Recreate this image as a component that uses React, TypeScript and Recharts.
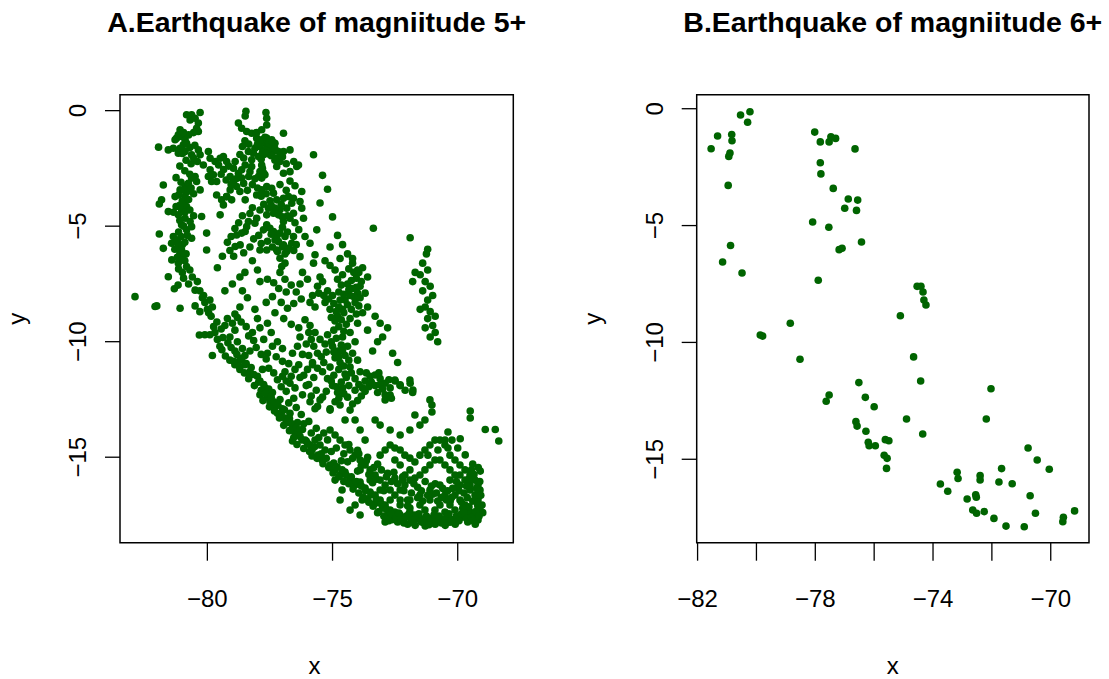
import React from 'react';
import { ScatterChart, Scatter, XAxis, YAxis, ReferenceArea } from 'recharts';

// ---------------------------------------------------------------------------
// Data: epicentres [longitude, latitude]
// ---------------------------------------------------------------------------

// Panel A (magnitude 5+), grouped by region
const nwCoastA: [number, number][] = [
  [-80.83, -0.18], [-80.63, -0.18], [-80.29, -0.08], [-80.69, -0.4], [-80.49, -0.33], [-80.36, -0.54],
  [-80.43, -0.76], [-80.36, -0.9], [-81.09, -0.83], [-81.16, -1.05], [-81.23, -1.19], [-81.03, -1.12],
  [-80.89, -1.26], [-81.29, -1.26], [-80.96, -1.48], [-80.83, -1.41], [-81.09, -1.63], [-80.89, -1.77],
  [-80.63, -1.91], [-80.36, -1.7], [-80.29, -1.91], [-80.4, -2.2], [-81.95, -1.58], [-81.56, -1.7],
  [-81.36, -1.63], [-81.16, -1.84], [-80.65, -2.3], [-80.16, -2.35], [-81.76, -3.22], [-81.83, -3.86],
  [-81.92, -4.04], [-81.56, -4.37], [-81.29, -3.72], [-81.09, -3.43], [-80.89, -3.28], [-80.76, -3.14],
  [-80.63, -2.92], [-80.49, -2.85], [-80.43, -3.07], [-80.29, -3.43], [-80.89, -3.72], [-80.96, -4.01],
  [-80.83, -4.15], [-81.03, -4.29], [-81.16, -4.51], [-80.89, -4.66], [-80.69, -4.8], [-80.63, -5.02],
  [-81.03, -4.94], [-80.83, -5.16], [-80.23, -4.58], [-80.03, -5.3], [-80.63, -5.52], [-81.0, -3.9],
  [-80.9, -4.4], [-81.1, -4.1], [-80.8, -3.5], [-81.92, -5.34], [-81.76, -5.96], [-81.36, -5.45],
  [-81.29, -5.67], [-81.16, -5.88], [-81.03, -6.03], [-80.96, -6.24], [-81.42, -6.46], [-81.16, -6.6],
  [-80.83, -6.75], [-81.43, -5.74], [-80.03, -6.03], [-81.2, -5.6], [-81.0, -5.8], [-81.1, -6.2],
  [-80.9, -6.5], [-80.7, -6.9], [-81.0, -7.0], [-80.6, -7.2], [-80.4, -7.4], [-81.56, -7.19],
  [-81.32, -7.71], [-82.89, -8.05], [-82.09, -8.48], [-82.02, -8.45], [-81.09, -8.55], [-80.49, -8.45],
  [-80.32, -9.71], [-80.1, -8.3], [-79.9, -8.2], [-80.0, -8.6], [-79.8, -8.5], [-80.2, -8.1],
  [-80.49, -7.77], [-81.17, -7.55], [-80.55, -0.95], [-80.75, -1.05], [-80.95, -0.95], [-80.5, -1.5],
  [-80.7, -1.6], [-81.0, -1.85], [-80.55, -2.05], [-80.85, -2.15], [-81.1, -2.4], [-80.9, -2.6],
  [-80.7, -2.75], [-81.25, -2.9], [-81.05, -3.1], [-80.95, -3.45], [-81.15, -3.65], [-80.65, -3.35],
  [-80.55, -3.6], [-80.75, -3.85], [-81.25, -4.15], [-81.35, -4.4], [-80.7, -4.3], [-80.55, -4.55],
  [-81.1, -4.75], [-80.95, -5.0], [-81.15, -5.25], [-80.8, -5.4], [-81.05, -5.45], [-80.9, -5.7],
  [-81.3, -6.0], [-81.2, -6.35], [-81.0, -6.45], [-80.85, -6.2], [-81.15, -6.85], [-80.95, -7.25],
  [-80.75, -7.5], [-80.3, -7.8], [-80.15, -8.0], [-80.3, -8.7], [-79.95, -8.75],
];

const northHighlandsA: [number, number][] = [
  [-79.96, -1.77], [-79.89, -2.06], [-79.69, -2.2], [-79.49, -2.06], [-79.36, -1.99], [-79.23, -2.2],
  [-78.89, -2.2], [-78.96, -2.49], [-78.76, -2.71], [-78.63, -2.92], [-79.09, -2.85], [-78.96, -3.07],
  [-78.83, -3.28], [-79.09, -3.43], [-79.23, -3.72], [-79.43, -3.86], [-79.36, -4.08], [-78.49, -2.35],
  [-78.63, -2.56], [-78.3, -2.64], [-78.23, -2.42], [-79.89, -2.56], [-79.96, -2.85], [-79.83, -3.07],
  [-79.63, -3.07], [-79.76, -2.78], [-78.46, -0.03], [-78.49, -0.23], [-78.76, -0.54], [-78.63, -0.76],
  [-78.43, -0.9], [-78.23, -0.98], [-78.03, -0.95], [-77.83, -0.83], [-77.63, -0.62], [-77.63, -0.33],
  [-77.66, -0.08], [-78.03, -1.19], [-77.83, -1.26], [-77.63, -1.19], [-77.43, -1.26], [-77.3, -1.41],
  [-77.5, -1.55], [-77.7, -1.41], [-77.9, -1.55], [-78.1, -1.63], [-78.16, -1.84], [-78.36, -1.77],
  [-78.23, -2.13], [-77.96, -1.99], [-77.76, -1.91], [-77.56, -1.77], [-77.36, -1.77], [-77.16, -1.77],
  [-76.96, -1.77], [-76.7, -1.7], [-76.96, -0.98], [-77.23, -2.06], [-77.1, -2.2], [-77.23, -2.42],
  [-77.83, -2.35], [-77.9, -2.64], [-77.83, -2.92], [-77.7, -2.78], [-77.96, -2.85], [-76.96, -2.71],
  [-76.7, -2.64], [-76.43, -2.42], [-76.36, -2.35], [-75.76, -1.91], [-77.6, -1.6], [-77.4, -1.5],
  [-77.7, -1.7], [-77.5, -1.9], [-77.8, -1.8], [-77.3, -1.65], [-77.85, -2.1], [-77.8, -2.5],
  [-77.75, -2.7], [-79.49, -4.51], [-79.63, -3.65], [-79.23, -3.72], [-79.03, -3.86], [-78.49, -3.86],
  [-78.03, -3.65], [-77.83, -3.43], [-77.63, -3.28], [-77.43, -3.36], [-77.36, -3.57], [-77.23, -3.86],
  [-76.96, -3.79], [-76.76, -3.72], [-76.56, -3.79], [-76.63, -4.01], [-76.83, -4.22], [-77.1, -4.29],
  [-77.3, -4.22], [-77.56, -4.22], [-77.63, -4.51], [-77.36, -4.44], [-77.16, -4.51], [-76.96, -4.8],
  [-76.7, -4.66], [-76.56, -4.44], [-76.23, -3.5], [-76.3, -3.93], [-76.23, -4.22], [-76.16, -4.66],
  [-76.56, -5.45], [-76.1, -5.45], [-75.9, -5.74], [-75.63, -5.16], [-75.7, -6.24], [-75.76, -6.6],
  [-76.3, -6.32], [-78.36, -4.8], [-78.1, -4.87], [-78.03, -4.66], [-78.43, -5.02], [-78.83, -5.38],
  [-78.63, -5.3], [-78.49, -5.23], [-78.89, -5.88], [-78.69, -5.81], [-77.76, -5.16], [-77.63, -4.94],
  [-77.5, -5.09], [-77.36, -5.23], [-77.23, -5.45], [-77.16, -5.67], [-76.96, -5.81], [-76.9, -5.45],
  [-76.63, -5.74], [-77.23, -6.03], [-77.63, -6.03], [-77.9, -6.03], [-77.1, -6.39], [-77.03, -6.75],
  [-76.9, -6.6], [-76.83, -6.1], [-77.3, -5.6], [-77.0, -5.9], [-77.2, -6.1], [-76.9, -6.2],
  [-77.4, -5.9], [-77.1, -5.3], [-79.0, -7.5], [-78.7, -7.2], [-79.3, -7.8], [-78.5, -7.0],
  [-79.6, -6.8], [-79.4, -6.3], [-78.2, -6.5], [-78.0, -6.9], [-79.55, -2.35], [-79.35, -2.55],
  [-79.15, -2.4], [-79.45, -2.75], [-79.25, -3.0], [-79.05, -3.2], [-78.85, -2.95], [-78.7, -3.5],
  [-78.55, -3.15], [-78.4, -3.45], [-78.2, -3.2], [-78.35, -2.85], [-78.1, -2.95], [-78.0, -3.35],
  [-77.85, -3.7], [-77.65, -3.6], [-77.5, -3.9], [-77.45, -4.1], [-77.75, -4.05], [-77.9, -4.3],
  [-78.2, -4.2], [-78.3, -4.45], [-78.6, -4.55], [-78.75, -4.85], [-78.9, -5.1], [-79.05, -5.45],
  [-79.2, -5.7], [-79.1, -6.05], [-78.95, -6.3], [-78.55, -6.15], [-78.3, -5.9], [-78.15, -5.55],
  [-77.95, -5.4], [-77.85, -5.75], [-77.6, -5.65], [-77.45, -5.35], [-77.0, -5.05], [-76.8, -5.25],
  [-76.75, -5.95], [-76.55, -6.05], [-76.45, -5.8], [-76.35, -5.15], [-76.5, -4.85], [-76.8, -4.55],
  [-77.0, -4.6], [-77.05, -4.05], [-76.85, -3.45], [-77.1, -3.2], [-76.7, -3.05], [-76.5, -3.25],
  [-77.9, -1.3], [-78.0, -1.45], [-77.7, -1.15], [-77.55, -1.4], [-77.4, -1.35], [-77.65, -1.85],
  [-77.45, -1.95], [-77.3, -2.15], [-77.0, -2.0], [-76.85, -2.3], [-76.55, -2.2], [-78.5, -1.3],
  [-78.6, -1.55], [-78.35, -1.45], [-78.7, -1.9], [-78.55, -2.05],
];

const centralA: [number, number][] = [
  [-75.4, -2.8], [-75.2, -3.4], [-75.5, -4.0], [-75.0, -4.6], [-74.8, -5.4], [-74.6, -5.8],
  [-74.4, -6.2], [-74.2, -6.6], [-74.7, -6.4], [-75.1, -5.9], [-75.3, -6.5], [-74.0, -6.9],
  [-73.37, -5.09], [-75.1, -6.7], [-74.9, -6.9], [-74.8, -7.3], [-74.6, -7.1], [-74.4, -7.5],
  [-74.2, -7.7], [-74.3, -8.0], [-74.5, -8.2], [-74.4, -8.4], [-74.1, -8.3], [-74.0, -7.9],
  [-73.9, -8.1], [-74.6, -8.6], [-74.8, -8.9], [-75.0, -8.0], [-75.2, -7.8], [-75.4, -7.4],
  [-75.5, -7.2], [-75.6, -7.6], [-75.8, -8.0], [-75.9, -8.3], [-75.7, -8.5], [-75.3, -8.3],
  [-75.1, -8.6], [-74.9, -9.1], [-74.3, -9.0], [-73.9, -7.6], [-73.7, -7.9], [-73.6, -8.5],
  [-73.3, -8.9], [-73.1, -9.2], [-74.2, -6.4], [-73.6, -7.2], [-73.8, -6.8], [-75.9, -9.3],
  [-75.7, -9.6], [-75.5, -9.9], [-75.3, -10.1], [-75.2, -9.7], [-75.0, -10.2], [-74.8, -10.4],
  [-74.9, -10.7], [-74.7, -10.9], [-74.5, -10.6], [-74.4, -10.2], [-74.6, -9.8], [-74.3, -9.6],
  [-74.1, -10.0], [-74.2, -10.5], [-74.0, -10.8], [-74.3, -11.1], [-74.5, -11.4], [-74.1, -11.6],
  [-73.9, -11.3], [-73.7, -11.7], [-73.8, -12.0], [-73.5, -11.5], [-73.3, -11.9], [-73.1, -11.6],
  [-72.9, -11.8], [-72.7, -12.0], [-72.5, -11.7], [-72.3, -11.9], [-73.2, -12.2], [-72.9, -12.3],
  [-72.1, -12.1], [-71.9, -11.8], [-71.8, -12.2], [-75.6, -10.5], [-75.8, -10.9], [-76.0, -11.2],
  [-75.4, -11.3], [-75.2, -11.6], [-75.0, -11.9], [-74.8, -12.2], [-74.6, -12.0], [-74.4, -12.4],
  [-74.2, -12.7], [-74.9, -12.6], [-75.1, -12.9], [-75.4, -12.4], [-75.6, -12.8], [-73.4, -10.4],
  [-73.2, -10.0], [-72.6, -10.5], [-73.0, -9.8], [-72.8, -9.4], [-72.4, -10.9], [-73.6, -9.5],
  [-74.0, -9.2], [-73.3, -11.44], [-73.1, -11.87], [-72.51, -11.66], [-72.3, -11.87], [-72.7, -12.31],
  [-72.9, -12.52], [-71.91, -11.66], [-71.79, -12.09], [-75.55, -7.9], [-75.35, -8.0], [-75.15, -8.15],
  [-74.95, -8.35], [-74.75, -8.5], [-74.55, -8.75], [-74.85, -8.7], [-75.05, -8.95], [-74.65, -9.05],
  [-74.45, -9.25], [-74.75, -9.35], [-74.95, -9.5], [-74.55, -9.55], [-74.85, -9.85], [-75.05, -10.0],
  [-74.65, -10.15], [-74.95, -10.45], [-74.6, -10.4], [-74.35, -10.8], [-74.75, -10.65], [-74.55, -11.05],
  [-74.75, -11.2], [-74.45, -11.55], [-74.25, -11.35], [-74.65, -11.75], [-74.35, -11.9], [-74.1, -12.1],
  [-73.95, -11.85], [-75.25, -10.45], [-75.45, -10.65], [-75.35, -10.9], [-75.6, -11.15], [-75.1, -11.1],
  [-74.95, -11.45], [-75.05, -11.7], [-74.85, -11.95], [-75.25, -12.15], [-74.55, -12.25], [-74.75, -12.45],
  [-73.85, -12.35], [-74.0, -12.55], [-73.7, -12.15], [-73.55, -11.95], [-73.65, -11.35], [-73.45, -11.75],
  [-73.15, -11.35], [-73.0, -12.05], [-72.75, -11.65], [-72.65, -12.45], [-76.1, -9.05], [-75.95, -9.6],
  [-76.05, -10.1], [-75.75, -10.2], [-75.85, -9.9], [-76.2, -10.55], [-75.95, -10.6], [-76.35, -11.0],
  [-76.15, -11.45], [-75.75, -11.55], [-75.95, -11.85], [-75.65, -12.1], [-75.85, -12.35], [-76.05, -11.9],
  [-74.05, -7.25], [-73.95, -7.0], [-74.15, -7.0], [-74.35, -6.85], [-74.25, -7.35], [-73.85, -7.4],
  [-74.05, -7.65], [-74.35, -7.75], [-74.65, -7.55], [-74.75, -7.85], [-74.55, -7.95], [-74.15, -8.05],
  [-74.7, -8.2], [-74.25, -8.6], [-73.95, -8.45], [-73.8, -8.75], [-74.05, -8.8],
];

const eastLineA: [number, number][] = [
  [-71.9, -5.5], [-71.2, -6.0], [-71.25, -6.2], [-71.4, -6.6], [-71.2, -6.9], [-71.5, -7.1],
  [-71.7, -7.0], [-71.3, -7.4], [-71.1, -7.6], [-71.4, -7.8], [-71.0, -8.0], [-71.2, -8.2],
  [-71.3, -8.5], [-71.1, -8.7], [-70.9, -8.9], [-71.2, -9.0], [-71.0, -9.3], [-70.9, -9.6],
  [-71.1, -9.8], [-70.8, -10.0], [-71.3, -9.4], [-71.8, -7.4], [-71.5, -8.6],
];

const coastBandA: [number, number][] = [
  [-80.1, -9.7], [-79.9, -9.7], [-79.7, -9.6], [-79.6, -9.9], [-79.5, -10.2], [-79.8, -10.6],
  [-79.3, -9.3], [-79.2, -9.0], [-79.0, -9.2], [-78.9, -9.5], [-79.1, -9.8], [-78.8, -10.0],
  [-78.6, -10.3], [-78.9, -10.4], [-78.5, -10.6], [-78.3, -10.4], [-78.7, -10.8], [-79.1, -10.8],
  [-78.9, -11.0], [-78.7, -11.2], [-78.5, -11.0], [-78.3, -11.3], [-78.0, -11.5], [-77.8, -11.2],
  [-77.9, -11.7], [-77.7, -12.0], [-77.9, -12.3], [-77.6, -12.4], [-77.4, -12.2], [-77.5, -12.6],
  [-77.3, -12.8], [-77.1, -12.5], [-77.0, -12.9], [-77.2, -13.1], [-76.9, -13.3], [-76.7, -13.1],
  [-76.8, -13.5], [-76.6, -13.7], [-76.4, -13.5], [-76.5, -13.9], [-76.3, -14.1], [-76.6, -14.3],
  [-76.2, -13.8], [-76.0, -14.4], [-78.0, -9.0], [-77.9, -9.4], [-78.1, -8.6], [-78.2, -9.6],
  [-78.6, -7.8], [-78.4, -8.1], [-78.7, -8.5], [-78.9, -8.8], [-77.6, -7.3], [-77.9, -7.4],
  [-76.9, -7.3], [-77.1, -7.0], [-76.2, -7.0], [-76.0, -7.3], [-76.3, -7.5], [-77.0, -10.3],
  [-77.2, -10.0], [-76.4, -10.2], [-76.6, -10.5], [-76.3, -9.8], [-75.8, -11.0], [-77.0, -11.5],
  [-76.7, -11.8], [-76.9, -11.3], [-76.5, -12.0], [-76.2, -12.3], [-75.9, -12.6], [-75.7, -12.9],
  [-79.85, -8.9], [-79.62, -9.15], [-79.45, -9.45], [-79.75, -9.35], [-79.38, -9.82], [-79.18, -10.05],
  [-79.42, -10.35], [-79.05, -10.25], [-78.82, -10.55], [-79.28, -10.62], [-78.62, -10.72], [-78.95, -10.85],
  [-78.45, -10.95], [-78.72, -11.08], [-78.25, -11.12], [-78.52, -11.35], [-78.15, -11.42], [-78.35, -11.6],
  [-77.95, -11.75], [-78.12, -11.9], [-77.75, -11.85], [-77.85, -12.1], [-77.55, -12.05], [-77.68, -12.25],
  [-77.45, -12.4], [-77.78, -12.55], [-77.35, -12.6], [-77.52, -12.82], [-77.18, -12.75], [-77.32, -13.0],
  [-77.05, -13.12], [-76.92, -12.95], [-77.12, -13.3], [-76.85, -13.45], [-76.72, -13.32], [-76.95, -13.62],
  [-76.62, -13.55], [-76.45, -13.72], [-76.72, -13.85], [-76.38, -14.0], [-76.55, -14.15], [-76.22, -14.25],
  [-76.42, -14.45], [-76.05, -14.3], [-76.15, -14.62], [-77.35, -7.45], [-77.15, -7.7], [-76.85, -7.85],
  [-76.65, -7.55], [-76.45, -7.85], [-76.25, -8.15], [-76.55, -8.35], [-76.8, -8.55], [-77.05, -8.3],
  [-77.4, -8.05], [-77.65, -8.3], [-77.3, -8.75], [-76.95, -9.0], [-76.65, -9.25], [-76.35, -9.4],
  [-77.6, -9.2], [-77.45, -9.6], [-77.75, -9.9], [-77.4, -10.2], [-77.6, -10.5], [-77.25, -10.65],
  [-77.0, -10.85], [-76.75, -10.95], [-76.5, -11.2], [-76.3, -11.55], [-76.65, -11.5], [-76.85, -11.7],
  [-76.45, -12.85], [-76.55, -12.45], [-76.75, -12.65], [-76.85, -12.15], [-77.05, -11.95], [-77.2, -11.65],
  [-77.35, -11.35], [-77.55, -11.15], [-77.65, -10.75], [-77.85, -10.55], [-78.05, -10.25], [-78.15, -9.95],
  [-78.35, -9.75], [-78.45, -9.35], [-78.65, -9.15], [-78.8, -8.95],
];

const southA: [number, number][] = [
  [-76.3, -13.82], [-76.1, -14.26], [-75.9, -14.47], [-75.82, -14.69], [-75.58, -14.91], [-75.42, -15.12],
  [-75.3, -14.69], [-75.5, -14.47], [-75.7, -14.26], [-75.1, -15.34], [-74.9, -15.55], [-74.7, -15.77],
  [-74.5, -15.64], [-74.3, -15.99], [-74.1, -16.2], [-73.9, -16.07], [-73.7, -16.33], [-73.5, -16.51],
  [-73.3, -16.64], [-73.1, -16.85], [-72.9, -17.07], [-72.7, -17.29], [-72.51, -17.37], [-72.3, -17.5],
  [-72.11, -17.63], [-71.91, -17.37], [-71.71, -17.5], [-71.51, -17.63], [-71.31, -17.72], [-71.11, -17.81],
  [-70.91, -17.72], [-70.71, -17.63], [-70.51, -17.72], [-70.31, -17.81], [-70.11, -17.72], [-69.91, -17.63],
  [-69.71, -17.5], [-69.51, -17.37], [-69.31, -17.5], [-69.19, -17.72], [-69.11, -17.29], [-69.03, -17.07],
  [-69.19, -16.85], [-69.31, -16.64], [-69.11, -16.42], [-69.19, -16.2], [-69.31, -15.99], [-69.51, -15.77],
  [-69.71, -15.55], [-69.91, -15.34], [-70.11, -15.12], [-70.31, -14.91], [-70.39, -14.6], [-70.51, -14.47],
  [-70.71, -14.26], [-70.79, -14.69], [-70.91, -15.12], [-71.11, -15.34], [-71.31, -15.55], [-71.51, -15.77],
  [-71.71, -15.9], [-71.91, -15.99], [-72.11, -16.2], [-72.3, -16.42], [-72.51, -16.64], [-72.7, -16.42],
  [-72.9, -16.2], [-73.1, -15.99], [-73.3, -15.77], [-73.5, -15.55], [-73.7, -15.34], [-73.9, -15.12],
  [-74.1, -14.91], [-74.3, -14.69], [-74.5, -14.47], [-74.7, -14.26], [-74.9, -14.04], [-75.1, -13.82],
  [-73.9, -15.55], [-73.5, -15.99], [-73.1, -16.42], [-72.7, -16.85], [-72.3, -17.07], [-71.91, -16.85],
  [-71.51, -16.64], [-71.11, -16.42], [-70.71, -16.2], [-70.31, -15.99], [-69.91, -15.77], [-69.51, -16.42],
  [-69.91, -16.85], [-70.31, -17.07], [-70.71, -17.07], [-71.11, -16.85], [-71.51, -17.07], [-71.91, -17.2],
  [-72.3, -16.85], [-69.91, -16.2], [-70.11, -16.64], [-70.51, -16.64], [-69.71, -17.07], [-70.11, -17.29],
  [-70.51, -17.37], [-70.91, -17.29], [-71.31, -17.29], [-70.71, -15.12], [-70.51, -15.34], [-70.31, -15.55],
  [-70.11, -15.77], [-69.71, -15.99], [-69.51, -16.2], [-74.3, -17.29], [-74.1, -17.07], [-73.9, -17.5],
  [-73.82, -16.85], [-74.62, -16.42], [-74.7, -16.85], [-74.9, -15.99], [-71.51, -14.91], [-71.31, -14.69],
  [-71.11, -14.47], [-70.91, -14.26], [-71.19, -14.91], [-71.71, -15.21], [-71.91, -15.04], [-72.11, -14.91],
  [-72.3, -14.69], [-72.51, -14.6], [-72.7, -14.47], [-72.9, -14.69], [-73.1, -14.91], [-72.51, -15.12],
  [-72.3, -15.34], [-71.91, -15.55], [-72.11, -15.77], [-72.51, -15.9], [-69.5, -13.0], [-69.5, -13.3],
  [-68.9, -13.8], [-68.5, -13.8], [-68.36, -14.3], [-70.39, -13.91], [-70.23, -14.26], [-70.51, -14.26],
  [-73.3, -13.39], [-73.1, -13.61], [-72.7, -13.82], [-72.3, -14.04], [-71.91, -13.82], [-71.51, -13.61],
  [-71.71, -13.17], [-71.31, -13.39], [-71.03, -13.04], [-71.11, -12.52], [-71.03, -12.74], [-75.5, -12.52],
  [-75.1, -12.96], [-74.7, -12.74], [-74.3, -12.96], [-74.1, -13.39], [-74.5, -13.39], [-73.9, -13.82],
  [-73.7, -14.26], [-73.6, -16.8], [-73.3, -17.0], [-73.0, -17.2], [-72.8, -17.5], [-72.6, -17.7],
  [-72.9, -17.8], [-73.2, -17.4], [-72.4, -17.8], [-72.0, -17.9], [-71.7, -17.95], [-71.3, -17.98],
  [-70.9, -17.9], [-70.5, -17.95], [-70.1, -17.9], [-69.6, -17.8], [-69.3, -17.9], [-69.8, -17.2],
  [-70.3, -16.9], [-71.0, -16.6], [-71.6, -16.3], [-72.2, -16.0], [-72.8, -15.7], [-73.2, -15.3],
  [-73.6, -15.0], [-74.0, -14.7], [-74.4, -15.2], [-74.0, -15.6], [-73.4, -16.1], [-72.0, -17.1],
  [-71.4, -16.9], [-70.8, -16.9], [-70.0, -16.3], [-69.4, -16.9], [-69.2, -17.1], [-69.0, -17.4],
  [-69.1, -15.6], [-69.4, -15.3], [-69.7, -14.9], [-70.0, -14.6], [-69.9, -14.2], [-75.92, -14.75],
  [-75.72, -14.55], [-75.82, -14.95], [-75.62, -15.05], [-75.45, -14.85], [-75.25, -15.05], [-75.38, -15.28],
  [-75.15, -15.45], [-74.95, -15.25], [-74.82, -15.42], [-74.98, -15.68], [-74.62, -15.55], [-74.75, -15.85],
  [-74.45, -15.78], [-74.55, -16.05], [-74.25, -15.85], [-74.35, -16.15], [-74.05, -16.05], [-74.18, -16.38],
  [-73.85, -16.25], [-73.95, -16.55], [-73.68, -16.45], [-73.78, -16.72], [-73.45, -16.62], [-73.55, -16.95],
  [-73.25, -16.82], [-73.38, -17.12], [-73.05, -17.02], [-73.15, -17.35], [-72.85, -17.25], [-72.95, -17.55],
  [-72.65, -17.45], [-72.75, -17.75], [-72.45, -17.58], [-72.25, -17.72], [-72.35, -17.42], [-72.05, -17.55],
  [-72.15, -17.85], [-71.85, -17.7], [-71.95, -17.45], [-71.65, -17.65], [-71.75, -17.85], [-71.45, -17.8],
  [-71.55, -17.45], [-71.25, -17.55], [-71.35, -17.85], [-71.05, -17.65], [-71.15, -17.92], [-70.85, -17.8],
  [-70.95, -17.5], [-70.65, -17.85], [-70.75, -17.55], [-70.45, -17.6], [-70.55, -17.85], [-70.25, -17.7],
  [-70.35, -17.45], [-70.05, -17.55], [-70.15, -17.82], [-69.85, -17.45], [-69.95, -17.75], [-69.65, -17.65],
  [-69.75, -17.35], [-69.45, -17.6], [-69.55, -17.15], [-69.28, -17.35], [-69.38, -17.75], [-69.15, -17.55],
  [-69.22, -16.95], [-69.08, -16.65], [-69.25, -16.35], [-69.12, -16.05], [-69.35, -15.75], [-69.18, -15.45],
  [-69.45, -15.55], [-69.55, -15.95], [-69.65, -16.25], [-69.75, -16.55], [-69.62, -16.75], [-69.85, -16.95],
  [-69.95, -16.45], [-70.05, -16.05], [-70.2, -16.35], [-70.25, -16.75], [-70.45, -16.85], [-70.4, -16.45],
  [-70.6, -16.35], [-70.65, -16.75], [-70.85, -16.55], [-70.9, -16.15], [-71.05, -16.25], [-71.2, -16.65],
  [-71.3, -16.05], [-71.45, -16.45], [-71.6, -16.75], [-71.75, -16.15], [-71.85, -16.55], [-72.0, -16.85],
  [-72.15, -16.45], [-72.2, -15.85], [-72.4, -16.15], [-72.55, -15.65], [-72.65, -16.05], [-72.85, -15.85],
  [-72.95, -16.45], [-73.05, -15.55], [-73.25, -15.95], [-73.35, -15.45], [-73.55, -15.75], [-73.65, -15.15],
  [-73.85, -15.35], [-73.95, -14.85], [-74.2, -15.05], [-74.35, -14.45], [-74.55, -14.85], [-74.65, -15.15],
  [-74.85, -14.6], [-75.05, -14.75], [-75.2, -14.25], [-75.35, -13.95], [-75.55, -14.15], [-75.65, -13.75],
  [-75.85, -13.95], [-75.95, -13.45], [-76.15, -13.55], [-76.25, -13.15],
];

// Panel B (magnitude 6+)
const quakes6: [number, number][] = [
  [-80.54, -0.27], [-80.22, -0.13], [-80.3, -0.58], [-81.32, -1.17], [-80.84, -1.1], [-80.83, -1.37],
  [-81.54, -1.71], [-80.9, -1.9], [-80.94, -2.04], [-80.96, -3.28], [-78.02, -1.0], [-77.83, -1.42],
  [-77.53, -1.42], [-77.47, -1.2], [-77.31, -1.27], [-76.65, -1.72], [-77.83, -2.31], [-77.81, -2.79],
  [-77.39, -3.41], [-76.88, -3.86], [-76.56, -3.91], [-77.0, -4.26], [-76.6, -4.35], [-78.09, -4.85],
  [-77.54, -5.07], [-80.88, -5.85], [-81.15, -6.56], [-80.49, -7.03], [-77.9, -7.34], [-76.43, -5.7],
  [-77.19, -6.03], [-77.09, -5.97], [-79.79, -9.73], [-79.87, -9.68], [-78.85, -9.18], [-78.52, -10.72],
  [-75.11, -8.86], [-74.54, -7.6], [-74.41, -7.6], [-74.34, -7.84], [-74.31, -8.19], [-74.24, -8.4],
  [-74.66, -10.62], [-76.52, -11.72], [-77.53, -12.25], [-77.63, -12.52], [-76.3, -12.35], [-76.0, -12.75],
  [-74.42, -11.65], [-74.9, -13.28], [-74.35, -13.92], [-76.62, -13.39], [-76.58, -13.58], [-76.28, -13.8],
  [-76.2, -14.27], [-76.17, -14.42], [-75.96, -14.42], [-75.62, -14.16], [-75.5, -14.21], [-75.66, -14.83],
  [-75.56, -14.96], [-75.58, -15.39], [-72.03, -11.98], [-72.19, -13.28], [-70.77, -14.52], [-70.46, -15.03],
  [-70.05, -15.43], [-71.67, -15.4], [-73.18, -15.56], [-73.15, -15.82], [-72.4, -15.7], [-72.4, -15.89],
  [-73.75, -16.06], [-73.5, -16.37], [-71.76, -15.97], [-71.31, -16.05], [-72.84, -16.7], [-72.55, -16.52],
  [-72.53, -16.62], [-70.7, -16.56], [-72.65, -17.17], [-72.52, -17.31], [-72.26, -17.24], [-71.93, -17.53],
  [-70.52, -17.31], [-71.52, -17.86], [-70.9, -17.89], [-69.57, -17.48], [-69.59, -17.67], [-69.19, -17.21],
];

const quakes5: [number, number][] = [
  ...nwCoastA, ...northHighlandsA, ...centralA, ...eastLineA, ...coastBandA, ...southA,
];

// Axis settings
const yTicks = [0, -5, -10, -15];
const xTicksA = [-80, -75, -70];
const xTicksB = [-82, -80, -78, -76, -74, -72, -70];
const xLabelsB = [-82, -78, -74, -70];

const domainA = { x: [-83.49, -67.78] as [number, number], y: [-18.7, 0.69] as [number, number] };
const domainB = { x: [-82.03, -68.7] as [number, number], y: [-18.57, 0.6] as [number, number] };

const GREEN = '#006400';
const FONT = '"Liberation Sans", Arial, Helvetica, sans-serif';

// ---------------------------------------------------------------------------
// Helpers
// ---------------------------------------------------------------------------

const fmt = (v: number) => (v < 0 ? `\u2212${Math.abs(v)}` : String(v));

const XTick = (props: any) => {
  const { x, y, payload, labels } = props;
  const v = payload.value as number;
  if (labels && !labels.includes(v)) return null;
  return (
    <text x={x} y={y + 44} textAnchor="middle" fontSize={24} fill="#000" fontFamily={FONT}>
      {fmt(v)}
    </text>
  );
};

const YTick = (props: any) => {
  const { x, y, payload } = props;
  const bx = x - 17;
  return (
    <text
      x={bx}
      y={y}
      transform={`rotate(-90, ${bx}, ${y})`}
      textAnchor="middle"
      fontSize={24}
      fill="#000"
      fontFamily={FONT}
    >
      {fmt(payload.value)}
    </text>
  );
};

const Dot = (props: any) => <circle cx={props.cx} cy={props.cy} r={3.8} fill={GREEN} />;

interface PanelProps {
  data: [number, number][];
  width: number;
  marginLeft: number;
  marginRight: number;
  domain: { x: [number, number]; y: [number, number] };
  xTicks: number[];
  xLabels?: number[];
}

const Panel: React.FC<PanelProps> = ({ data, width, marginLeft, marginRight, domain, xTicks, xLabels }) => {
  const points = data.map(([x, y]) => ({ x, y }));
  return (
    <ScatterChart
      width={width}
      height={679}
      margin={{ top: 94.7, right: marginRight, bottom: 76.3, left: marginLeft }}
    >
      <XAxis
        type="number"
        dataKey="x"
        domain={domain.x}
        allowDataOverflow
        ticks={xTicks}
        interval={0}
        height={60}
        axisLine={false}
        tickSize={18}
        tickLine={{ stroke: '#000', strokeWidth: 1.3 }}
        tick={(p: any) => <XTick {...p} labels={xLabels} />}
      />
      <YAxis
        type="number"
        dataKey="y"
        domain={domain.y}
        allowDataOverflow
        ticks={yTicks}
        interval={0}
        width={60}
        axisLine={false}
        tickSize={15}
        tickLine={{ stroke: '#000', strokeWidth: 1.3 }}
        tick={(p: any) => <YTick {...p} />}
      />
      <ReferenceArea
        x1={domain.x[0]}
        x2={domain.x[1]}
        y1={domain.y[0]}
        y2={domain.y[1]}
        fill="none"
        fillOpacity={0}
        stroke="#000"
        strokeWidth={1.5}
        ifOverflow="visible"
      />
      <Scatter data={points} shape={Dot} isAnimationActive={false} />
    </ScatterChart>
  );
};

// ---------------------------------------------------------------------------
// App
// ---------------------------------------------------------------------------

export default function App() {
  return (
    <div
      style={{
        position: 'absolute',
        left: 0,
        top: 0,
        width: 1109,
        height: 679,
        background: '#fff',
        fontFamily: FONT,
      }}
    >
      <div style={{ position: 'absolute', left: 0, top: 0 }}>
        <Panel
          data={quakes5}
          width={560}
          marginLeft={60}
          marginRight={46.7}
          domain={domainA}
          xTicks={xTicksA}
        />
      </div>
      <div style={{ position: 'absolute', left: 560, top: 0 }}>
        <Panel
          data={quakes6}
          width={549}
          marginLeft={76.7}
          marginRight={20}
          domain={domainB}
          xTicks={xTicksB}
          xLabels={xLabelsB}
        />
      </div>
      <svg
        width={1109}
        height={679}
        style={{ position: 'absolute', left: 0, top: 0, pointerEvents: 'none' }}
      >
        <g fontFamily={FONT} fill="#000">
          <text x={316.7} y={32.3} textAnchor="middle" fontSize={28.5} fontWeight="bold">
            A.Earthquake of magniitude 5+
          </text>
          <text x={892.8} y={32.3} textAnchor="middle" fontSize={28.5} fontWeight="bold">
            B.Earthquake of magniitude 6+
          </text>
          <text x={314.5} y={674.3} textAnchor="middle" fontSize={24}>x</text>
          <text x={892.8} y={674.3} textAnchor="middle" fontSize={24}>x</text>
          <text x={25.5} y={318.7} textAnchor="middle" fontSize={24} transform="rotate(-90, 25.5, 318.7)">y</text>
          <text x={600.8} y={318.7} textAnchor="middle" fontSize={24} transform="rotate(-90, 600.8, 318.7)">y</text>
        </g>
      </svg>
    </div>
  );
}
